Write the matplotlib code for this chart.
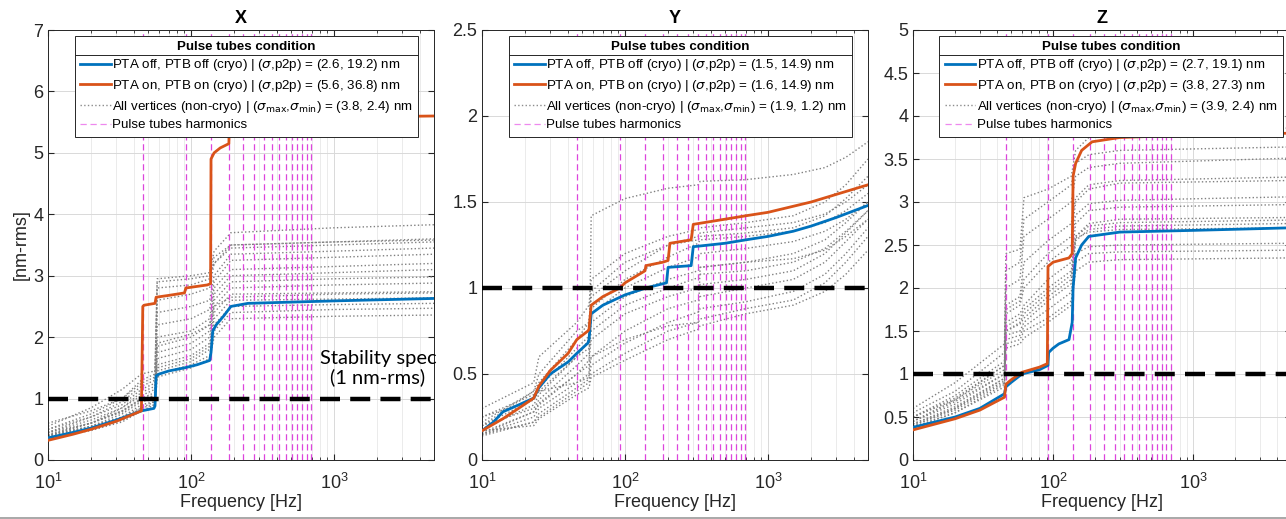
import numpy as np
import matplotlib
matplotlib.use("Agg")
import matplotlib.pyplot as plt
from matplotlib.lines import Line2D
from matplotlib.ticker import MultipleLocator, FuncFormatter

plt.rcParams['font.family'] = ['Liberation Sans', 'DejaVu Sans']

# harmonics of the pulse tubes [Hz]
harmonics = [46, 92, 138, 184, 230, 276, 322, 368, 414, 460, 506, 552, 598, 644, 690]

# ---- X axis data ----
x_blue_f = [10, 15, 20, 30, 45, 55, 56, 57, 60, 70, 90, 110, 135, 138, 142, 150, 170, 190, 250, 500, 1000, 5000]
x_blue_v = [0.36, 0.45, 0.52, 0.65, 0.8, 0.84, 0.88, 1.37, 1.40, 1.45, 1.5, 1.55, 1.62, 1.75, 2.1, 2.2, 2.35, 2.5, 2.55, 2.57, 2.59, 2.63]
x_orange_f = [10, 15, 20, 30, 45, 46, 47, 56, 57, 70, 90, 92, 130, 137, 138, 145, 160, 184, 185, 200, 1000, 5000]
x_orange_v = [0.32, 0.42, 0.5, 0.63, 0.8, 2.5, 2.52, 2.55, 2.65, 2.68, 2.72, 2.8, 2.85, 2.87, 4.9, 5.0, 5.08, 5.15, 5.45, 5.55, 5.58, 5.6]
x_grey_f = [10, 20, 33, 45, 56, 58, 100, 135, 145, 190, 1000, 5000]
x_grey_v = [
    [0.55, 0.85, 1.15, 1.4, 1.45, 2.95, 3.0, 3.05, 3.4, 3.7, 3.78, 3.83],
    [0.5, 0.75, 1.0, 1.25, 1.35, 2.8, 2.85, 2.95, 3.3, 3.5, 3.55, 3.6],
    [0.45, 0.7, 0.95, 1.2, 1.3, 2.6, 2.7, 2.8, 3.2, 3.45, 3.5, 3.55],
    [0.5, 0.7, 0.9, 1.15, 1.25, 2.4, 2.5, 2.6, 3.0, 3.35, 3.4, 3.45],
    [0.45, 0.65, 0.85, 1.1, 1.2, 2.2, 2.3, 2.45, 2.9, 3.25, 3.3, 3.35],
    [0.4, 0.6, 0.85, 1.05, 1.15, 2.0, 2.1, 2.3, 2.8, 3.1, 3.15, 3.2],
    [0.45, 0.6, 0.8, 1.0, 1.1, 1.85, 2.0, 2.2, 2.7, 3.0, 3.05, 3.1],
    [0.4, 0.6, 0.8, 1.0, 1.05, 1.75, 1.9, 2.1, 2.6, 2.9, 2.95, 2.98],
    [0.4, 0.55, 0.75, 0.95, 1.0, 1.65, 1.8, 2.0, 2.5, 2.8, 2.85, 2.88],
    [0.38, 0.55, 0.7, 0.9, 0.95, 1.55, 1.7, 1.9, 2.4, 2.7, 2.72, 2.74],
    [0.4, 0.55, 0.7, 0.85, 0.95, 1.5, 1.65, 1.85, 2.3, 2.6, 2.62, 2.64],
    [0.36, 0.5, 0.65, 0.85, 0.9, 1.45, 1.6, 1.8, 2.2, 2.5, 2.53, 2.55],
    [0.38, 0.5, 0.65, 0.8, 0.9, 1.4, 1.55, 1.7, 2.1, 2.4, 2.45, 2.47],
    [0.35, 0.48, 0.62, 0.8, 0.85, 1.35, 1.5, 1.65, 2.0, 2.3, 2.34, 2.36],
    [0.6, 0.8, 1.0, 1.3, 1.4, 2.9, 2.95, 3.0, 3.2, 3.5, 3.55, 3.58],
    [0.42, 0.6, 0.78, 0.98, 1.05, 1.9, 2.05, 2.2, 2.5, 2.65, 2.7, 2.72],
]

# ---- Y axis data ----
y_blue_f = [10, 12, 14, 18, 23, 25, 30, 40, 46, 55, 56, 58, 70, 100, 140, 195, 200, 290, 300, 500, 700, 1000, 1500, 2000, 3000, 5000]
y_blue_v = [0.17, 0.22, 0.28, 0.32, 0.36, 0.42, 0.5, 0.57, 0.62, 0.68, 0.70, 0.85, 0.9, 0.96, 1.0, 1.03, 1.12, 1.13, 1.24, 1.26, 1.28, 1.3, 1.33, 1.36, 1.41, 1.48]
y_orange_f = [10, 14, 18, 23, 25, 30, 40, 46, 55, 56, 58, 70, 92, 100, 138, 140, 184, 200, 206, 290, 300, 500, 700, 1000, 2000, 5000]
y_orange_v = [0.17, 0.24, 0.3, 0.36, 0.43, 0.52, 0.62, 0.7, 0.75, 0.76, 0.9, 0.95, 1.0, 1.03, 1.1, 1.13, 1.15, 1.16, 1.26, 1.28, 1.37, 1.4, 1.42, 1.44, 1.5, 1.6]
y_grey_f = [10, 23, 25, 46, 56, 58, 100, 200, 325, 335, 700, 1500, 2500, 3500, 5000]
y_grey_v = [
    [0.25, 0.35, 0.4, 0.45, 0.48, 1.42, 1.52, 1.58, 1.6, 1.62, 1.63, 1.66, 1.7, 1.76, 1.85],
    [0.3, 0.45, 0.6, 0.8, 0.9, 1.05, 1.2, 1.3, 1.34, 1.35, 1.38, 1.42, 1.5, 1.6, 1.75],
    [0.22, 0.4, 0.45, 0.7, 0.8, 0.95, 1.1, 1.25, 1.3, 1.32, 1.35, 1.38, 1.43, 1.5, 1.6],
    [0.2, 0.35, 0.42, 0.65, 0.72, 0.88, 1.05, 1.18, 1.26, 1.28, 1.3, 1.33, 1.38, 1.45, 1.55],
    [0.25, 0.38, 0.4, 0.6, 0.7, 0.85, 1.0, 1.12, 1.18, 1.2, 1.23, 1.27, 1.33, 1.4, 1.5],
    [0.18, 0.32, 0.38, 0.6, 0.65, 0.8, 0.95, 1.05, 1.1, 1.12, 1.15, 1.2, 1.28, 1.38, 1.5],
    [0.2, 0.3, 0.35, 0.55, 0.62, 0.75, 0.9, 1.0, 1.06, 1.08, 1.1, 1.15, 1.23, 1.33, 1.45],
    [0.16, 0.28, 0.33, 0.5, 0.58, 0.7, 0.85, 0.95, 1.0, 1.02, 1.05, 1.1, 1.2, 1.32, 1.45],
    [0.15, 0.28, 0.32, 0.5, 0.55, 0.6, 0.7, 0.78, 0.8, 1.12, 1.15, 1.17, 1.22, 1.3, 1.4],
    [0.15, 0.25, 0.3, 0.45, 0.5, 0.6, 0.75, 0.88, 0.93, 0.95, 1.0, 1.05, 1.15, 1.27, 1.4],
    [0.14, 0.22, 0.27, 0.42, 0.47, 0.55, 0.68, 0.8, 0.86, 0.88, 0.92, 0.98, 1.08, 1.2, 1.35],
    [0.15, 0.22, 0.25, 0.4, 0.45, 0.5, 0.62, 0.75, 0.8, 0.82, 0.88, 0.93, 1.03, 1.15, 1.3],
    [0.17, 0.2, 0.24, 0.38, 0.42, 0.48, 0.58, 0.7, 0.76, 0.78, 0.85, 0.9, 0.98, 1.08, 1.22],
    [0.2, 0.4, 0.5, 0.75, 0.8, 0.98, 1.15, 1.25, 1.28, 1.3, 1.32, 1.35, 1.42, 1.52, 1.65],
]

# ---- Z axis data ----
z_blue_f = [10, 20, 30, 45, 46, 50, 60, 80, 92, 93, 100, 110, 130, 137, 139, 145, 160, 180, 300, 1000, 5000]
z_blue_v = [0.38, 0.5, 0.6, 0.77, 0.85, 0.9, 1.0, 1.05, 1.1, 1.25, 1.3, 1.35, 1.4, 1.6, 2.0, 2.35, 2.5, 2.6, 2.65, 2.67, 2.7]
z_orange_f = [10, 20, 30, 45, 46, 50, 60, 80, 91, 92, 100, 130, 137, 139, 145, 160, 190, 300, 1000, 5000]
z_orange_v = [0.35, 0.48, 0.58, 0.73, 0.88, 0.93, 1.02, 1.08, 1.12, 2.25, 2.3, 2.35, 2.4, 3.3, 3.45, 3.6, 3.7, 3.75, 3.78, 3.8]
z_grey_f = [10, 20, 45, 46, 58, 62, 92, 135, 145, 180, 300, 5000]
z_grey_v = [
    [0.6, 0.9, 1.35, 2.4, 2.45, 3.05, 3.15, 3.3, 3.6, 3.75, 3.82, 3.86],
    [0.55, 0.8, 1.25, 2.2, 2.3, 2.8, 3.0, 3.2, 3.45, 3.55, 3.6, 3.64],
    [0.5, 0.75, 1.15, 2.0, 2.1, 2.6, 2.8, 3.0, 3.3, 3.4, 3.45, 3.51],
    [0.5, 0.7, 1.1, 1.8, 1.9, 2.3, 2.55, 2.75, 3.05, 3.2, 3.25, 3.29],
    [0.45, 0.7, 1.05, 1.7, 1.8, 2.0, 2.3, 2.5, 2.85, 2.98, 3.02, 3.06],
    [0.45, 0.65, 1.0, 1.6, 1.7, 1.8, 2.1, 2.3, 2.75, 2.9, 2.94, 2.97],
    [0.42, 0.62, 0.95, 1.5, 1.6, 1.7, 1.95, 2.15, 2.6, 2.72, 2.76, 2.79],
    [0.4, 0.6, 0.92, 1.45, 1.5, 1.6, 1.85, 2.05, 2.55, 2.68, 2.72, 2.75],
    [0.4, 0.58, 0.9, 1.4, 1.45, 1.55, 1.75, 1.95, 2.4, 2.48, 2.5, 2.52],
    [0.38, 0.55, 0.88, 1.35, 1.4, 1.5, 1.65, 1.85, 2.3, 2.4, 2.42, 2.44],
    [0.38, 0.55, 0.85, 1.3, 1.35, 1.42, 1.6, 1.8, 2.2, 2.3, 2.33, 2.35],
    [0.45, 0.68, 1.0, 1.55, 1.65, 1.75, 2.0, 2.2, 2.6, 2.75, 2.8, 2.82],
    [0.5, 0.72, 1.1, 1.75, 1.85, 2.1, 2.4, 2.6, 3.0, 3.15, 3.22, 3.25],
    [0.42, 0.6, 0.95, 1.5, 1.58, 1.65, 1.9, 2.1, 2.58, 2.65, 2.68, 2.7],
]

panels = [
    dict(title='X', blue=(x_blue_f, x_blue_v), orange=(x_orange_f, x_orange_v),
         grey=(x_grey_f, x_grey_v), ylim=7, ystep=1,
         labels=['PTA off, PTB off (cryo) | ($\\sigma$,p2p) = (2.6, 19.2) nm',
                 'PTA on, PTB on (cryo) | ($\\sigma$,p2p) = (5.6, 36.8) nm',
                 'All vertices (non-cryo) | ($\\sigma_{\\rm max}$,$\\sigma_{\\rm min}$) = (3.8, 2.4) nm'],
         pos=[48, 386]),
    dict(title='Y', blue=(y_blue_f, y_blue_v), orange=(y_orange_f, y_orange_v),
         grey=(y_grey_f, y_grey_v), ylim=2.5, ystep=0.5,
         labels=['PTA off, PTB off (cryo) | ($\\sigma$,p2p) = (1.5, 14.9) nm',
                 'PTA on, PTB on (cryo) | ($\\sigma$,p2p) = (1.6, 14.9) nm',
                 'All vertices (non-cryo) | ($\\sigma_{\\rm max}$,$\\sigma_{\\rm min}$) = (1.9, 1.2) nm'],
         pos=[482, 386]),
    dict(title='Z', blue=(z_blue_f, z_blue_v), orange=(z_orange_f, z_orange_v),
         grey=(z_grey_f, z_grey_v), ylim=5, ystep=0.5,
         labels=['PTA off, PTB off (cryo) | ($\\sigma$,p2p) = (2.7, 19.1) nm',
                 'PTA on, PTB on (cryo) | ($\\sigma$,p2p) = (3.8, 27.3) nm',
                 'All vertices (non-cryo) | ($\\sigma_{\\rm max}$,$\\sigma_{\\rm min}$) = (3.9, 2.4) nm'],
         pos=[913, 378]),
]

W, H = 1286, 519
fig = plt.figure(figsize=(W / 100, H / 100), dpi=100)
ink = (0.15, 0.15, 0.15)
legends = []

for p in panels:
    ax = fig.add_axes([p['pos'][0] / W, 1 - 460 / H, p['pos'][1] / W, 430 / H])
    gf, gv = p['grey']
    for row in gv:
        ax.plot(gf, row, ':', color=(0.5, 0.5, 0.5), lw=1.0, zorder=2)
    ax.plot(*p['blue'], color='#0072BD', lw=2.0, zorder=4)
    ax.plot(*p['orange'], color='#D95319', lw=2.0, zorder=4)
    for h in harmonics:
        ax.axvline(h, color='#dd44dd', ls=(0, (5, 3)), lw=0.9, zorder=3)
    ax.axhline(1, color='k', lw=3.2, ls=(0, (4.5, 2.3)), zorder=5)

    ax.set_xscale('log')
    ax.set_xlim(10, 5000)
    ax.set_ylim(0, p['ylim'])
    ax.yaxis.set_major_locator(MultipleLocator(p['ystep']))
    ax.yaxis.set_major_formatter(FuncFormatter(lambda v, pos: '%g' % v))
    ax.grid(True, which='major', color=(0.85, 0.85, 0.85), lw=0.7)
    ax.grid(True, which='minor', axis='x', color=(0.91, 0.91, 0.91), lw=0.6)
    ax.set_axisbelow(True)
    ax.tick_params(which='both', direction='in', top=True, right=True,
                   colors=ink, labelsize=13, labelcolor=ink)
    ax.tick_params(axis='x', which='major', pad=9)
    ax.tick_params(which='major', length=4)
    ax.tick_params(which='minor', length=2)
    for s in ax.spines.values():
        s.set_color(ink)
        s.set_linewidth(0.7)
    ax.set_title(p['title'], fontsize=13, fontweight='bold', color='k', pad=5)
    ax.set_xlabel('Frequency [Hz]', fontsize=13, color=ink, labelpad=1)
    if p['title'] == 'X':
        ax.set_ylabel('[nm-rms]', fontsize=13, color=ink, labelpad=2)

    handles = [Line2D([], [], color='#0072BD', lw=2.0),
               Line2D([], [], color='#D95319', lw=2.0),
               Line2D([], [], color=(0.55, 0.55, 0.55), ls=':', lw=1.0),
               Line2D([], [], color='#ee88ee', ls=(0, (5, 3)), lw=0.9)]
    leg = ax.legend(handles, p['labels'] + ['Pulse tubes harmonics'],
                    loc='upper left', bbox_to_anchor=(0.07, 0.987),
                    title='Pulse tubes condition',
                    title_fontproperties={'weight': 'bold', 'size': 9.6},
                    fontsize=9.6, frameon=True, fancybox=False, framealpha=1,
                    edgecolor=ink, borderpad=0.4, labelspacing=0.34,
                    handlelength=2.3, handletextpad=0.1, borderaxespad=0)
    leg.get_frame().set_linewidth(0.7)
    leg.set_zorder(10)
    legends.append(leg)

fig.text(378 / W, 1 - 368 / H, 'Stability spec\n(1 nm-rms)', ha='center', va='center',
         fontsize=14.5, family=['Lato', 'DejaVu Sans'], linespacing=1.05)

# separator line under the legend title (MATLAB style)
fig.canvas.draw()
inv = fig.transFigure.inverted()
for leg in legends:
    fb = leg.get_frame().get_window_extent()
    tb = leg.get_title().get_window_extent()
    yline = tb.y0 - 2
    (x0, y0), (x1, _) = inv.transform([(fb.x0, yline), (fb.x1, yline)])
    fig.add_artist(Line2D([x0, x1], [y0, y0], color=ink, lw=0.7, transform=fig.transFigure, zorder=11))

fig.add_artist(Line2D([0, 1], [1.5 / H, 1.5 / H], color=(0.6, 0.6, 0.6), lw=1.2, transform=fig.transFigure))

fig.savefig('out.png', dpi=100)
